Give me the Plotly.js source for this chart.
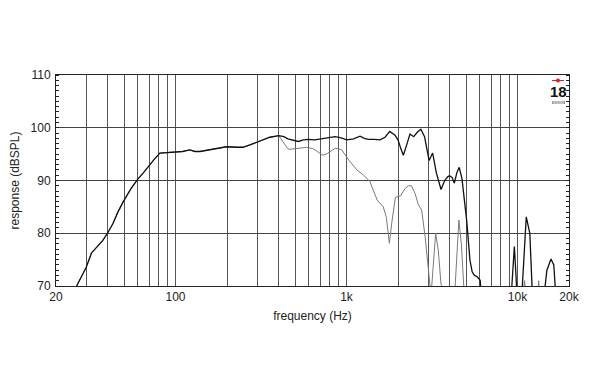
<!DOCTYPE html>
<html>
<head>
<meta charset="utf-8">
<script src="https://cdn.plot.ly/plotly-3.0.1.min.js"></script>
<style>html,body{margin:0;padding:0;background:#fff;}#chart{width:590px;height:384px;}</style>
</head>
<body>
<div id="chart"></div>
<script>
// On-axis response (black)
const onAxisFreq = [26.4,28,30,32.3,35,37.5,40,43,46,49.5,55,60,65,69.3,75,81,90,100,110,121,130,139,150,166,199,230,248,275,305,356,402,430,454,490,522,560,598,652,716,780,858,930,1002,1100,1200,1270,1341,1450,1570,1680,1790,1920,2000,2080,2150,2250,2350,2470,2600,2720,2860,2950,3040,3190,3350,3570,3750,3900,4000,4140,4270,4420,4560,4730,4880,5040,5270,5430,5600,5780,6050,6200,9100,9350,9580,9800,10000,10500,10900,11250,11800,12000,12300,14050,14850,15700,16300,16900];
const onAxisDb   = [70,71.5,73.5,76.3,77.5,78.6,80,81.8,84,86,88.5,90.2,91.5,92.7,94,95.2,95.3,95.4,95.5,95.8,95.5,95.5,95.7,96.0,96.4,96.3,96.3,96.8,97.4,98.2,98.5,98.3,97.9,97.6,97.4,97.7,97.8,97.7,97.9,98.0,98.3,98.1,97.7,97.9,98.4,98.0,97.8,97.8,97.7,98.2,99.3,98.6,97.7,96.0,94.8,96.8,98.8,98.3,99.2,99.7,98.3,96.0,93.8,95.2,91.5,88.3,90.0,90.7,90.9,90.6,89.5,91.5,92.5,90.4,87,82.5,74.9,72.7,72,71.8,71.1,66,66,72,77.5,72,66,66,76,83.1,80,76,66,66,73,75.1,74,66];

// Off-axis response (grey)
const offAxisFreq = [26.4,28,30,32.3,35,37.5,40,43,46,49.5,55,60,65,69.3,75,81,90,100,110,121,130,139,150,166,199,230,248,275,305,356,402,430,454,466,510,584,640,682,726,770,802,858,900,938,1030,1150,1260,1370,1510,1640,1710,1780,1840,1930,2070,2200,2300,2400,2520,2630,2750,2880,3040,3120,3200,3320,3440,3570,4250,4400,4540,4690,4930,10600,11000,11400,13000,13300,13600];
const offAxisDb   = [70,71.5,73.5,76.3,77.5,78.6,80,81.8,84,86,88.5,90.2,91.5,92.7,94,95.2,95.3,95.4,95.5,95.8,95.5,95.5,95.7,96.0,96.4,96.3,96.3,96.8,97.4,98.2,98.5,97.2,96.0,95.9,96.1,96.3,96.0,95.4,94.8,95.1,95.5,96.1,96.0,95.8,93.9,92.0,91.0,89.8,86.3,85.0,83,78.1,82,86.8,87.1,88.5,89.0,89.0,87.5,85.4,84.4,79.4,71.8,68,73,80,76.8,70.3,66,76,82.5,78.1,66,66,71,66,66,71,66];

// Axis ticks
const gridFreqs = [20,30,40,50,60,70,80,90,100,200,300,400,500,600,700,800,900,1000,2000,3000,4000,5000,6000,7000,8000,9000,10000,20000];
const labelMap = {20:'20',100:'100',1000:'1k',10000:'10k',20000:'20k'};
const xTickText = gridFreqs.map(f => labelMap[f] || '');
const yTickVals = [70,80,90,100,110];

const L = 56, R = 569, T = 75, B = 286;
const px = x => (x - L) / (R - L);
const py = y => (B - y) / (B - T);

const traces = [
  {x: offAxisFreq, y: offAxisDb, type: 'scatter', mode: 'lines',
   line: {color: '#7a7a7a', width: 1}, hoverinfo: 'skip', showlegend: false},
  {x: onAxisFreq, y: onAxisDb, type: 'scatter', mode: 'lines',
   line: {color: '#111111', width: 1.3}, hoverinfo: 'skip', showlegend: false}
];

const layout = {
  width: 590, height: 384,
  margin: {l: L, r: 590 - R, t: T, b: 384 - B, pad: 0},
  paper_bgcolor: '#ffffff', plot_bgcolor: '#ffffff',
  font: {family: 'Liberation Sans, Arial, sans-serif', size: 12, color: '#222'},
  showlegend: false,
  xaxis: {
    type: 'log', range: [Math.log10(20), Math.log10(20000)],
    tickmode: 'array', tickvals: gridFreqs, ticktext: xTickText,
    ticks: '', showgrid: true, gridcolor: '#555', gridwidth: 1,
    showline: true, linecolor: '#222', linewidth: 1, mirror: true,
    zeroline: false, tickfont: {size: 12},
    title: {text: 'frequency (Hz)', font: {size: 12}, standoff: 8}
  },
  yaxis: {
    range: [70, 110], tickmode: 'array', tickvals: yTickVals,
    ticks: '', showgrid: true, gridcolor: '#444', gridwidth: 1,
    showline: true, linecolor: '#222', linewidth: 1, mirror: 'allticks',
    zeroline: false, tickfont: {size: 12}, ticklabelstandoff: 2,
    minor: {dtick: 1, ticks: 'inside', ticklen: 3, tickcolor: '#222', tickwidth: 1, showgrid: false},
    title: {text: 'response (dBSPL)', font: {size: 12}, standoff: 8}
  },
  shapes: [
    {type: 'line', xref: 'paper', yref: 'paper', x0: px(552), x1: px(564), y0: py(80.5), y1: py(80.5),
     line: {color: '#e02020', width: 1}},
    {type: 'circle', xref: 'paper', yref: 'paper', x0: px(556), x1: px(560), y0: py(82.5), y1: py(78.5),
     fillcolor: '#e02020', line: {color: '#e02020', width: 0}},
    {type: 'rect', xref: 'paper', yref: 'paper', x0: px(552), x1: px(565), y0: py(104), y1: py(101),
     fillcolor: '#999', line: {width: 0}}
  ],
  annotations: [
    {xref: 'paper', yref: 'paper', x: px(558), y: py(91.5), xanchor: 'center', yanchor: 'middle',
     text: '<b>18</b>', showarrow: false,
     font: {family: 'Liberation Sans Narrow, Liberation Sans, Arial', size: 15, color: '#111'}},
    {xref: 'paper', yref: 'paper', x: px(558.5), y: py(102.5), xanchor: 'center', yanchor: 'middle',
     text: 'SOUND', showarrow: false,
     font: {family: 'Liberation Sans', size: 3, color: '#fff'}}
  ]
};

Plotly.newPlot('chart', traces, layout, {displayModeBar: false, staticPlot: true});
</script>
</body>
</html>
